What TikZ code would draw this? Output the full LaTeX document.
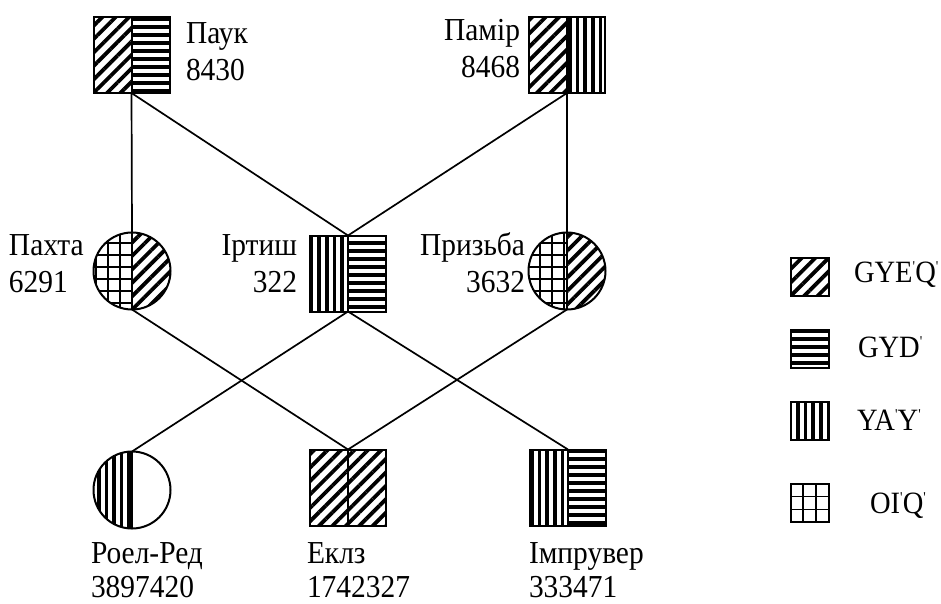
\documentclass[tikz,border=0pt]{standalone}
\usepackage{fontspec}
\setmainfont[FakeStretch=0.92]{Liberation Serif}
\usetikzlibrary{patterns.meta,calc}
\newcommand{\tick}{{\fontsize{15}{15}\selectfont\raisebox{11pt}{\textquotesingle}}}
\begin{document}
\begin{tikzpicture}[x=1pt,y=-1pt,
  every node/.style={inner sep=0pt,outer sep=0pt},
  sq/.style={rectangle,minimum size=76pt},
  rnd/.style={circle,minimum size=77pt},
  lbl/.style={font=\fontsize{32}{38}\selectfont},
  keytext/.style={font=\fontsize{31}{36}\selectfont},
  frame/.style={line width=2pt},
  link/.style={line width=1.7pt},
  hdiag/.style={pattern={Lines[angle=45,distance=9.5pt,line width=3.8pt]}},
  hhoriz/.style={pattern={Lines[angle=0,distance=8pt,line width=3.6pt]}},
  hvert/.style={pattern={Lines[angle=90,distance=7.6pt,line width=3.6pt]}},
  hgrid/.style={pattern={Hatch[angle=0,distance=12pt,line width=2pt]}},
  hnone/.style={fill=white}]

\useasboundingbox (0,0) rectangle (941,603);

% ---- square families: left half / right half
\node[sq] (pauk) at (131.5,55) {};
\node[sq] (pamir) at (567,55) {};
\node[sq] (irtysh) at (348,273.5) {};
\node[sq] (eklz) at (348,487.5) {};
\node[sq] (impr) at (568,487.5) {};
% ---- round families
\node[rnd] (pakhta) at (132,271) {};
\node[rnd] (pryzba) at (567,271) {};
\node[rnd] (roel) at (132,490) {};

% ---- connectors
\draw[link] (pauk.south) -- (pakhta.north);
\draw[link] (pauk.south) -- (irtysh.north);
\draw[link] (pamir.south) -- (irtysh.north);
\draw[link] (pamir.south) -- (pryzba.north);
\draw[link] (pakhta.south) -- (eklz.north);
\draw[link] (pryzba.south) -- (eklz.north);
\draw[link] (irtysh.south) -- (roel.north);
\draw[link] (irtysh.south) -- (impr.north);

% ---- square fills
\foreach \n/\l/\r in {pauk/hdiag/hhoriz, pamir/hdiag/hvert, irtysh/hvert/hhoriz,
                      eklz/hdiag/hdiag, impr/hvert/hhoriz}{
  \fill[white] (\n.north west) rectangle (\n.south east);
  \fill[\l] (\n.north west) rectangle (\n.south);
  \fill[\r] (\n.north) rectangle (\n.south east);
  \draw[frame] (\n.north west) rectangle (\n.south east);
  \draw[frame] (\n.north) -- (\n.south);
}

% ---- round fills
\foreach \n/\l/\r in {pakhta/hgrid/hdiag, pryzba/hgrid/hdiag, roel/hvert/hnone}{
  \begin{scope}
    \clip (\n.center) circle (38.5);
    \fill[white] (\n.center) circle (38.5);
    \fill[\l] ([xshift=-40pt,yshift=40pt]\n.center) rectangle ([yshift=-40pt]\n.center);
    \fill[\r] ([yshift=40pt]\n.center) rectangle ([xshift=40pt,yshift=-40pt]\n.center);
  \end{scope}
  \draw[frame] (\n.center) circle (38.5);
  \draw[frame] (\n.north) -- (\n.south);
}

% ---- labels
\node[lbl,anchor=base west] (paukA) at (186,43) {Паук};
\node[lbl,anchor=base west] (paukB) at (186,80) {8430};
\node[lbl,anchor=base east] (pamirA) at (520,40) {Памір};
\node[lbl,anchor=base east] (pamirB) at (520,77) {8468};
\node[lbl,anchor=base west] (pakhtaA) at (9,255) {Пахта};
\node[lbl,anchor=base west] (pakhtaB) at (9,292) {6291};
\node[lbl,anchor=base east] (irtyshA) at (297,255) {Іртиш};
\node[lbl,anchor=base east] (irtyshB) at (297,292) {322};
\node[lbl,anchor=base east] (pryzbaA) at (525,255) {Призьба};
\node[lbl,anchor=base east] (pryzbaB) at (525,292) {3632};
\node[lbl,anchor=base west] (roelA) at (91,563) {Роел-Ред};
\node[lbl,anchor=base west] (roelB) at (91,597) {3897420};
\node[lbl,anchor=base west] (eklzA) at (307,563) {Еклз};
\node[lbl,anchor=base west] (eklzB) at (307,597) {1742327};
\node[lbl,anchor=base west] (imprA) at (529,563) {Імпрувер};
\node[lbl,anchor=base west] (imprB) at (529,597) {333471};

% ---- legend
\node[rectangle,minimum size=38pt] (keyA) at (809.5,277) {};
\node[rectangle,minimum size=38pt] (keyB) at (809.5,349) {};
\node[rectangle,minimum size=38pt] (keyC) at (809.5,420.5) {};
\node[rectangle,minimum size=38pt] (keyD) at (809.5,503) {};
\fill[hdiag] (keyA.north west) rectangle (keyA.south east);
\fill[hhoriz] (keyB.north west) rectangle (keyB.south east);
\fill[hvert] (keyC.north west) rectangle (keyC.south east);
\foreach \k in {keyA,keyB,keyC,keyD}
  \draw[frame] (\k.north west) rectangle (\k.south east);
\foreach \f in {0.3333,0.6667}{
  \draw[line width=1.6pt] ($(keyD.north west)!\f!(keyD.north east)$) -- ($(keyD.south west)!\f!(keyD.south east)$);
  \draw[line width=1.6pt] ($(keyD.north west)!\f!(keyD.south west)$) -- ($(keyD.north east)!\f!(keyD.south east)$);
}
\node[keytext,anchor=base west] (keyAt) at (854,282) {GYE\tick Q\tick};
\node[keytext,anchor=base west] (keyBt) at (858,357) {GYD\tick};
\node[keytext,anchor=base west] (keyCt) at (857,430) {YA\tick Y\tick};
\node[keytext,anchor=base west] (keyDt) at (870,513) {OI\tick Q\tick};
\end{tikzpicture}
\end{document}
